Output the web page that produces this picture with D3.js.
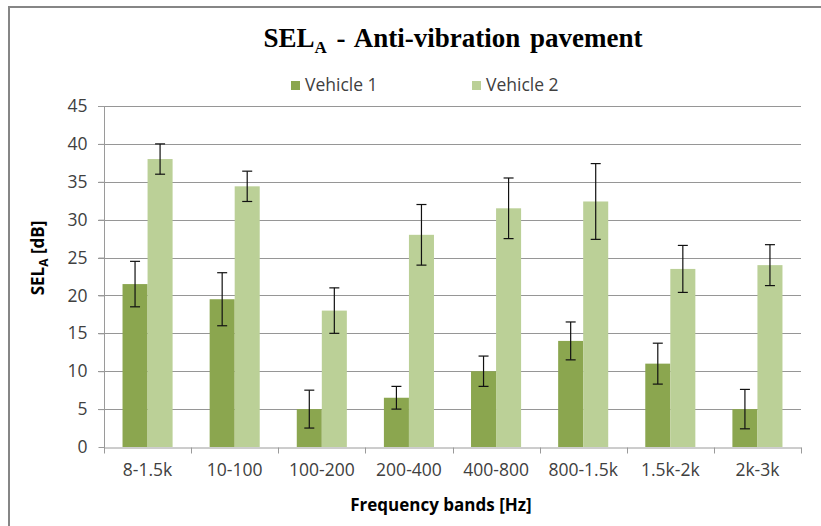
<!DOCTYPE html>
<html>
<head>
<meta charset="utf-8">
<script src="https://cdn.jsdelivr.net/npm/d3@7"></script>
<style>
  body { margin: 0; background: #fff; }
  svg { display: block; }
  text { font-family: "Open Sans", "DejaVu Sans", sans-serif; fill: #404040; }
</style>
</head>
<body>
<div id="chart"></div>
<script>
// data
var bands = ["8-1.5k", "10-100", "100-200", "200-400", "400-800", "800-1.5k", "1.5k-2k", "2k-3k"];
var seriesNames = ["Vehicle 1", "Vehicle 2"];
var vehicle1 = [21.5, 19.5, 5, 6.5, 10, 14, 11, 5];
var vehicle2 = [38, 34.4, 18, 28, 31.5, 32.4, 23.5, 24];
var err1 = [3, 3.5, 2.5, 1.5, 2, 2.5, 2.7, 2.6];
var err2 = [2, 2, 3, 4, 4, 5, 3.1, 2.7];
var yTicks = [0, 5, 10, 15, 20, 25, 30, 35, 40, 45];

var colors = d3.scaleOrdinal().domain(seriesNames).range(["#8ba64f", "#bbd097"]);

var width = 821, height = 526;
var margin = {top: 106, right: 20, bottom: 79, left: 104};
var plotW = 801 - margin.left, plotH = 447 - margin.top;

var svg = d3.select("#chart").append("svg")
  .attr("width", width).attr("height", height);

// outer chart frame (only top and left edges are in view)
svg.append("path")
  .attr("d", "M9," + (height + 5) + "V7H" + (width + 5))
  .attr("fill", "none").attr("stroke", "#868686").attr("stroke-width", 2);

var g = svg.append("g").attr("transform", "translate(" + margin.left + "," + margin.top + ")");

var x0 = d3.scaleBand().domain(bands).range([0, plotW]).padding(0);
var x1 = d3.scaleBand().domain(seriesNames).range([0, x0.bandwidth()]).paddingInner(0).paddingOuter(0.74);
var y = d3.scaleLinear().domain([0, 45]).range([plotH, 0]);

// gridlines
g.append("g").selectAll("line")
  .data(yTicks.filter(function(d){ return d > 0; }))
  .enter().append("line")
  .attr("x1", -6).attr("x2", plotW)
  .attr("y1", function(d){ return Math.round(y(d)) + 0.5; })
  .attr("y2", function(d){ return Math.round(y(d)) + 0.5; })
  .attr("stroke", "#969696").attr("stroke-width", 1);

// y axis
var yAxis = g.append("g")
  .attr("transform", "translate(0.5,0)")
  .call(d3.axisLeft(y).tickValues(yTicks).tickSize(6).tickPadding(11));
yAxis.select(".domain").attr("stroke", "#9a9a9a").attr("d", "M0," + (plotH + 6) + "V0");
yAxis.selectAll(".tick line").attr("stroke", "#9a9a9a");
yAxis.selectAll("text").attr("font-size", 17.5).attr("fill", "#404040")
  .style("font-family", "\"Open Sans\", sans-serif");

// x axis
var xAxis = g.append("g")
  .attr("transform", "translate(0," + (plotH + 0.5) + ")")
  .call(d3.axisBottom(x0).tickSize(0).tickPadding(16));
xAxis.select(".domain").attr("stroke", "#9a9a9a");
xAxis.selectAll("text").attr("font-size", 17.5).attr("fill", "#404040")
  .style("font-family", "\"Open Sans\", sans-serif");
xAxis.append("g").selectAll("line")
  .data(d3.range(bands.length + 1))
  .enter().append("line")
  .attr("x1", function(i){ return Math.round(i * x0.step()) + 0.5; })
  .attr("x2", function(i){ return Math.round(i * x0.step()) + 0.5; })
  .attr("y1", 0).attr("y2", 6)
  .attr("stroke", "#9a9a9a");

// bars
var rows = bands.map(function(b, i){
  return {band: b, vals: [
    {name: seriesNames[0], v: vehicle1[i], e: err1[i]},
    {name: seriesNames[1], v: vehicle2[i], e: err2[i]}
  ]};
});

var groups = g.append("g").selectAll("g")
  .data(rows).enter().append("g")
  .attr("transform", function(d){ return "translate(" + x0(d.band) + ",0)"; });

groups.selectAll("rect")
  .data(function(d){ return d.vals; })
  .enter().append("rect")
  .attr("x", function(d){ return x1(d.name); })
  .attr("width", x1.bandwidth())
  .attr("y", function(d){ return y(d.v); })
  .attr("height", function(d){ return plotH - y(d.v); })
  .attr("fill", function(d){ return colors(d.name); });

// error bars
var eb = groups.selectAll("g.err")
  .data(function(d){ return d.vals; })
  .enter().append("g").attr("class", "err")
  .attr("stroke", "#111").attr("stroke-width", 1.2);
function cx(d){ return x1(d.name) + x1.bandwidth() / 2; }
eb.append("line")
  .attr("x1", cx).attr("x2", cx)
  .attr("y1", function(d){ return y(d.v + d.e); })
  .attr("y2", function(d){ return y(d.v - d.e); });
eb.append("line")
  .attr("x1", function(d){ return cx(d) - 5; }).attr("x2", function(d){ return cx(d) + 5; })
  .attr("y1", function(d){ return y(d.v + d.e); }).attr("y2", function(d){ return y(d.v + d.e); });
eb.append("line")
  .attr("x1", function(d){ return cx(d) - 5; }).attr("x2", function(d){ return cx(d) + 5; })
  .attr("y1", function(d){ return y(d.v - d.e); }).attr("y2", function(d){ return y(d.v - d.e); });

// title
var title = svg.append("text")
  .attr("x", 453).attr("y", 47)
  .attr("text-anchor", "middle")
  .style("font-family", "\"Liberation Serif\", \"Times New Roman\", serif")
  .style("font-weight", "bold").style("font-size", "27px").style("fill", "#000")
  .style("word-spacing", "3px");
title.append("tspan").text("SEL");
title.append("tspan").attr("dy", 6).style("font-size", "17px").text("A");
title.append("tspan").attr("dy", -6).text(" - Anti-vibration  pavement");

// legend
var legend = svg.append("g").selectAll("g")
  .data(seriesNames).enter().append("g")
  .attr("transform", function(d, i){ return "translate(" + (291 + i * 181) + ",81)"; });
legend.append("rect").attr("width", 9).attr("height", 9)
  .attr("fill", function(d){ return colors(d); });
legend.append("text").attr("x", 14).attr("y", 10)
  .attr("font-size", 17.5).text(function(d){ return d; });

// axis titles
var yt = svg.append("text")
  .attr("transform", "translate(44,258) rotate(-90)")
  .attr("text-anchor", "middle")
  .style("font-weight", "bold").style("font-size", "17px").style("fill", "#000");
yt.append("tspan").text("SEL");
yt.append("tspan").attr("dy", 4).style("font-size", "12px").text("A");
yt.append("tspan").attr("dy", -4).text(" [dB]");

svg.append("text")
  .attr("x", 441).attr("y", 511)
  .attr("text-anchor", "middle")
  .style("font-weight", "bold").style("font-size", "17px").style("fill", "#000")
  .text("Frequency bands [Hz]");
</script>
</body>
</html>
